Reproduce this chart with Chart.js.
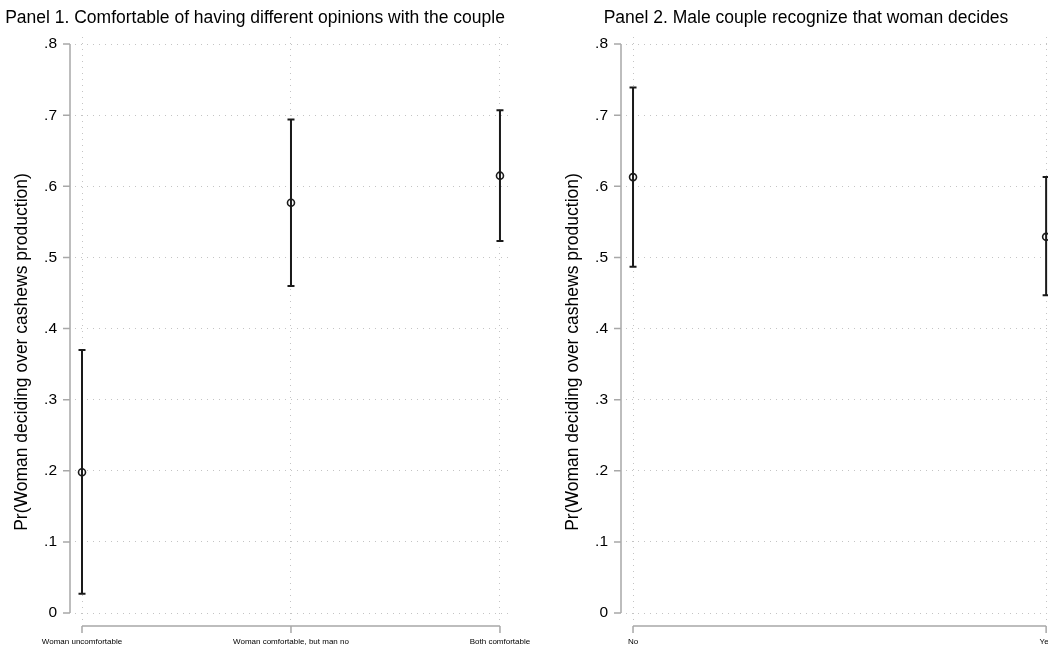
<!DOCTYPE html>
<html>
<head>
<meta charset="utf-8">
<script src="https://cdn.jsdelivr.net/npm/chart.js@4.4.1/dist/chart.umd.min.js"></script>
<style>
html, body { margin: 0; padding: 0; background: #fff; overflow: hidden; width: 1048px; height: 647px; }
.panel { position: absolute; top: 0; width: 540px; height: 647px; }
</style>
</head>
<body>
<div class="panel" style="left:0"><canvas id="panel1" width="540" height="647"></canvas></div>
<div class="panel" style="left:551px"><canvas id="panel2" width="540" height="647"></canvas></div>
<script>
// Panel 1
const cats1 = ['Woman uncomfortable', 'Woman comfortable, but man no', 'Both comfortable'];
const est1 = [0.198, 0.577, 0.615];
const lo1 = [0.027, 0.460, 0.523];
const hi1 = [0.370, 0.694, 0.707];

// Panel 2
const cats2 = ['No', 'Yes'];
const est2 = [0.613, 0.529];
const lo2 = [0.487, 0.447];
const hi2 = [0.739, 0.613];

const yTicks = [0, 0.1, 0.2, 0.3, 0.4, 0.5, 0.6, 0.7, 0.8];
const yTitle = 'Pr(Woman deciding over cashews production)';

Chart.defaults.font.family = '"Liberation Sans", Arial, sans-serif';
Chart.defaults.color = '#000';

// error bars, stata-like axis lines and y title
const stataAxes = {
    id: 'stataAxes',
    beforeDatasetsDraw(chart) {
        const {ctx, scales: {x, y}} = chart;
        const ds = chart.data.datasets[0];
        ctx.save();
        ctx.strokeStyle = '#1a1a1a';
        ctx.lineWidth = 2;
        ds.data.forEach((p, i) => {
            const px = x.getPixelForValue(p.x);
            const y0 = y.getPixelForValue(ds.lo[i]);
            const y1 = y.getPixelForValue(ds.hi[i]);
            ctx.beginPath();
            ctx.moveTo(px, y0); ctx.lineTo(px, y1);
            ctx.moveTo(px - 3.5, y0); ctx.lineTo(px + 3.5, y0);
            ctx.moveTo(px - 3.5, y1); ctx.lineTo(px + 3.5, y1);
            ctx.stroke();
        });
        ctx.restore();
    },
    afterDraw(chart) {
        const {ctx, chartArea, scales: {x, y}} = chart;
        const n = chart.data.datasets[0].data.length;
        ctx.save();
        ctx.strokeStyle = '#a8a8a8';
        ctx.lineWidth = 1.5;
        // y axis
        const ax = chartArea.left - 5;
        ctx.beginPath();
        ctx.moveTo(ax, y.getPixelForValue(yTicks[0]));
        ctx.lineTo(ax, y.getPixelForValue(yTicks[yTicks.length - 1]));
        yTicks.forEach(v => {
            const py = y.getPixelForValue(v);
            ctx.moveTo(ax - 7, py); ctx.lineTo(ax, py);
        });
        ctx.stroke();
        // x axis
        const ay = chartArea.bottom + 6;
        ctx.beginPath();
        ctx.moveTo(x.getPixelForValue(0), ay);
        ctx.lineTo(x.getPixelForValue(n - 1), ay);
        for (let i = 0; i < n; i++) {
            const px = x.getPixelForValue(i);
            ctx.moveTo(px, ay); ctx.lineTo(px, ay + 7);
        }
        ctx.stroke();
        // y title
        ctx.fillStyle = '#000';
        ctx.font = '17.5px "Liberation Sans", Arial, sans-serif';
        ctx.textAlign = 'center';
        ctx.textBaseline = 'middle';
        ctx.translate(22, 352);
        ctx.rotate(-Math.PI / 2);
        ctx.fillText(yTitle, 0, 0);
        ctx.restore();
    }
};

function makePanel(id, title, cats, est, lo, hi, xmin, xmax) {
    return new Chart(document.getElementById(id).getContext('2d'), {
        type: 'scatter',
        data: {
            datasets: [{
                data: est.map((v, i) => ({x: i, y: v})),
                lo: lo,
                hi: hi,
                pointRadius: 3.5,
                pointBorderWidth: 1.6,
                borderColor: '#1a1a1a',
                backgroundColor: 'rgba(0,0,0,0)'
            }]
        },
        options: {
            responsive: false,
            animation: false,
            layout: {padding: {left: 0, right: 30, top: 0, bottom: 0}},
            plugins: {
                legend: {display: false},
                tooltip: {enabled: false},
                title: {
                    display: true,
                    text: title,
                    align: 'center',
                    color: '#000',
                    font: {size: 17.5, weight: 'normal'},
                    padding: {top: 8, bottom: 8}
                }
            },
            scales: {
                x: {
                    type: 'linear',
                    min: xmin,
                    max: xmax,
                    afterBuildTicks: s => { s.ticks = cats.map((c, i) => ({value: i})); },
                    afterFit: s => { s.height = 27; s.paddingLeft = 0; s.paddingRight = 0; },
                    grid: {color: '#c4c4c4', lineWidth: 1, drawTicks: false},
                    border: {display: false, dash: [1, 5]},
                    ticks: {
                        autoSkip: false,
                        maxRotation: 0,
                        padding: 16.5,
                        font: {size: 8},
                        callback: v => cats[v]
                    }
                },
                y: {
                    min: -0.0098,
                    max: 0.81,
                    afterBuildTicks: s => { s.ticks = yTicks.map(v => ({value: v})); },
                    afterFit: s => { s.width = 75; s.paddingTop = 0; s.paddingBottom = 0; },
                    grid: {color: '#c4c4c4', lineWidth: 1, drawTicks: false},
                    border: {display: false, dash: [1, 5]},
                    ticks: {
                        padding: 18,
                        font: {size: 15.5},
                        callback: v => v === 0 ? '0' : v.toFixed(1).replace('0.', '.')
                    }
                }
            }
        },
        plugins: [stataAxes]
    });
}

makePanel('panel1', 'Panel 1. Comfortable of having different opinions with the couple',
    cats1, est1, lo1, hi1, -0.0335, 2.048);
makePanel('panel2', 'Panel 2. Male couple recognize that woman decides',
    cats2, est2, lo2, hi2, -0.017, 1.036);
</script>
</body>
</html>
